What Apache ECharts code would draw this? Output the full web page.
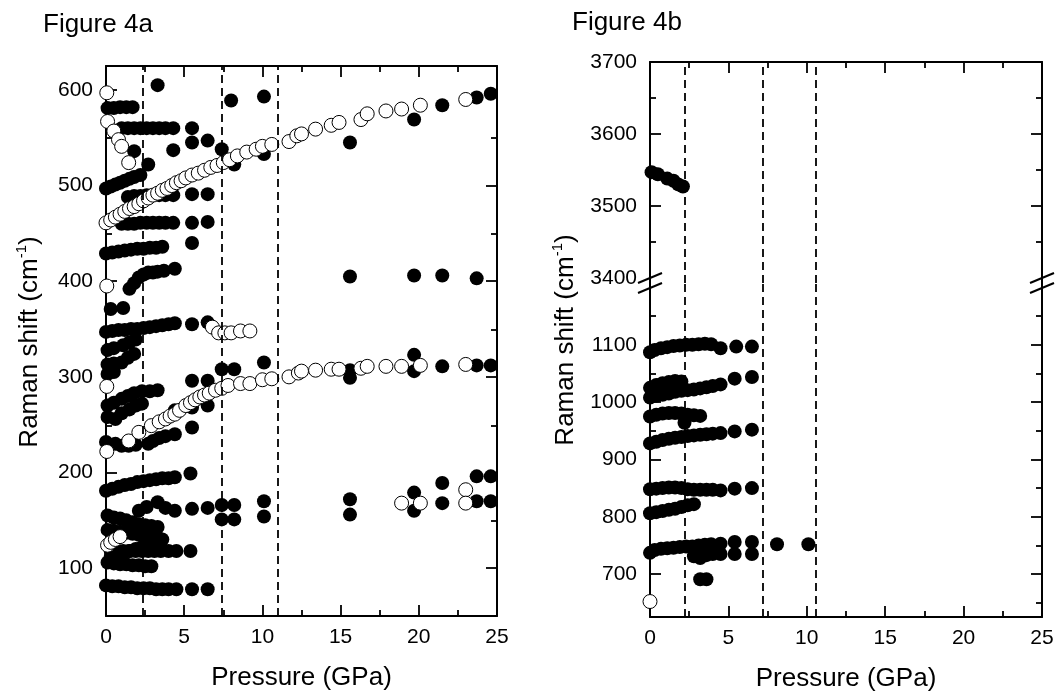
<!DOCTYPE html>
<html><head><meta charset="utf-8">
<script src="https://cdn.jsdelivr.net/npm/echarts@6/dist/echarts.min.js"></script>
<style>html,body{margin:0;padding:0;background:#fff}#c{width:1057px;height:696px}</style>
</head><body><div id="c"></div>
<script>
// ---------------- DATA ----------------
const xTickValues = [0, 5, 10, 15, 20, 25];
const yLabelsA = [100, 200, 300, 400, 500, 600];
const yMinorA = [150, 250, 350, 450, 550];
const yLabelsBHigh = [3400, 3500, 3600, 3700];
const yMajorBHigh = [3500, 3600];
const yMinorBHigh = [3450, 3550, 3650];
const yLabelsBLow = [700, 800, 900, 1000, 1100];
const yMinorBLow = [650, 750, 850, 950, 1050, 1150];
const transitionsA = [2.35, 7.4, 10.95];
const transitionsB = [2.2, 7.2, 10.6];

// Figure 4a, filled circles [pressure GPa, Raman shift cm-1]
const filledA = [
  [3.3,605],[8.0,589],[10.1,593],[15.6,545],[19.7,569],[21.5,584],[23.7,592],[24.6,596],
  [0.1,581],[0.5,581],[0.9,582],[1.3,582],[1.7,582],
  [1.0,560],[1.4,560],[1.8,560],[2.2,560],[2.6,560],[3.0,560],[3.4,560],[3.8,560],[4.3,560],[5.5,560],
  [1.8,536],[2.7,522],[4.3,537],[5.5,545],[6.5,547],[7.4,538],[8.2,522],[10.1,533],
  [0.0,497],[0.3,499],[0.6,501],[0.9,503],[1.2,505],[1.5,507],[1.8,509],[2.2,511],
  [1.4,488],[1.8,489],[2.2,489],[2.6,490],[3.0,490],[3.4,490],[3.8,490],[4.3,490],[5.5,491],[6.5,491],
  [1.0,460],[1.4,460],[1.8,460],[2.2,461],[2.6,461],[3.0,461],[3.4,461],[3.8,461],[4.3,461],[5.5,461],[6.5,462],
  [0.0,429],[0.4,430],[0.8,431],[1.2,432],[1.6,433],[2.0,434],[2.4,434],[2.8,435],[3.2,435],[3.6,436],[5.5,440],
  [1.5,392],[1.8,398],[2.1,404],[2.4,407],[2.7,409],[3.0,409],[3.3,410],[3.7,411],[4.4,413],
  [15.6,405],[19.7,406],[21.5,406],[23.7,403],
  [0.3,371],[1.1,372],
  [0.0,347],[0.4,348],[0.8,349],[1.2,349],[1.6,350],[2.0,350],[2.4,351],[2.8,352],[3.2,353],[3.6,354],[4.0,355],[4.4,356],[5.5,355],[6.5,357],
  [0.1,328],[0.5,330],[1.1,333],[1.5,336],[1.9,339],
  [0.1,313],[0.5,314],[1.0,315],[1.4,320],[1.8,324],
  [0.1,303],[0.5,305],
  [5.5,296],[6.5,296],[7.4,308],[8.2,308],[10.1,315],[15.6,307],[15.6,299],[19.7,323],[19.7,306],[21.5,311],[23.7,312],[24.6,312],
  [0.1,270],[0.5,273],[1.0,277],[1.4,280],[1.8,283],[2.3,285],[2.8,285],[3.3,286],
  [0.1,258],[0.6,256],[1.0,262],[1.5,266],[1.9,270],[2.3,272],
  [4.4,265],[5.5,268],[6.5,270],
  [0.0,232],[0.6,230],[1.0,228],[1.45,228],[1.9,229],
  [2.7,230],[3.0,233],[3.4,236],[3.8,238],[4.4,240],[5.5,247],
  [0.0,181],[0.4,183],[0.8,185],[1.2,187],[1.6,188],[2.0,190],[2.4,191],[2.8,192],[3.2,193],[3.6,194],[4.0,194],[4.4,195],[5.4,199],
  [2.1,160],[2.6,164],[3.3,169],[3.8,163],[4.4,160],[5.5,162],[6.5,163],[7.4,166],[8.2,166],[10.1,170],[15.6,172],[19.7,160],[21.5,168],[23.7,170],[24.6,170],
  [7.4,151],[8.2,151],[10.1,154],[15.6,156],
  [19.7,179],[21.5,189],[23.7,196],[24.6,196],
  [0.1,155],[0.5,153],[0.9,152],[1.3,150],[1.7,148],[2.1,146],[2.5,145],[2.9,144],[3.3,143],
  [0.1,140],[0.5,139],[0.9,138],[1.3,137],[1.7,136],[2.1,135],[2.5,134],[2.9,133],[3.3,132],[3.6,130],
  [0.3,112],[0.7,114],[1.1,116],[1.5,118],[1.9,120],[2.3,122],[2.7,124],[3.1,126],
  [0.3,118],[0.7,118],[1.1,118],[1.5,118],[1.9,118],[2.3,118],[2.7,118],[3.1,118],[3.5,118],[4.0,118],[4.5,118],[5.4,118],
  [0.1,106],[0.5,105],[0.9,104],[1.3,104],[1.7,103],[2.1,103],[2.5,102],[2.9,102],
  [0.0,82],[0.4,81],[0.8,81],[1.2,80],[1.6,80],[2.0,79],[2.4,79],[2.8,79],[3.2,78],[3.6,78],[4.0,78],[4.5,78],[5.5,78],[6.5,78]
];

// Figure 4a, open circles
const openA = [
  [0.05,597],[0.1,567],[0.5,557],[0.8,548],[1.0,541],[1.45,524],
  [0.0,461],[0.3,464],[0.6,467],[0.9,470],[1.2,473],[1.5,476],[1.8,478],[2.1,481],[2.4,484],[2.7,487],[3.0,490],[3.3,492],[3.6,495],[3.9,497],[4.2,500],[4.5,503],[4.8,505],[5.1,508],[5.5,511],[5.9,513],[6.3,516],[6.7,519],[7.1,521],[7.5,524],[7.9,527],[8.4,531],[9.0,535],[9.6,538],[10.0,541],
  [10.6,543],[11.7,546],[12.2,552],[12.5,554],[13.4,559],[14.4,563],[14.9,566],[16.3,569],[16.7,575],[17.9,578],[18.9,580],[20.1,584],[23.0,590],
  [0.05,395],
  [6.8,352],[7.2,346],[7.6,346],[8.0,346],[8.6,348],[9.2,348],
  [0.05,290],
  [0.05,222],
  [1.45,233],[2.1,242],[2.9,249],[3.4,253],[3.8,256],[4.1,259],[4.4,261],[4.7,265],[5.1,270],[5.4,273],[5.7,276],[6.0,279],[6.3,281],[6.6,283],[7.0,286],[7.4,288],[7.8,291],[8.6,293],[9.2,293],[10.0,297],
  [10.6,298],[11.7,300],[12.3,304],[12.5,306],[13.4,307],[14.4,308],[14.9,308],[16.3,309],[16.7,311],[17.9,311],[18.9,311],[20.1,312],[23.0,313],
  [18.9,168],[20.1,168],[23.0,182],[23.0,168],
  [0.1,124],[0.3,127],[0.6,130],[0.9,133]
];

// Figure 4b, filled circles (upper segment)
const filledBHigh = [[0.1,3547],[0.5,3544],[1.1,3538],[1.5,3535],[1.8,3530],[2.1,3527]];

// Figure 4b, filled circles (lower segment)
const filledBLow = [
  [0.0,1087],[0.3,1091],[0.7,1094],[1.1,1096],[1.5,1098],[1.9,1099],[2.3,1100],[2.7,1100],[3.1,1101],[3.5,1102],[3.9,1101],[4.5,1094],[5.5,1097],[6.5,1097],
  [0.0,1025],[0.4,1030],[0.8,1033],[1.2,1035],[1.6,1037],[2.0,1036],
  [0.0,1008],[0.4,1011],[0.8,1013],[1.2,1015],[1.6,1018],[2.0,1020],[2.4,1021],[2.8,1022],[3.2,1024],[3.6,1026],[4.0,1028],[4.5,1031],[5.4,1041],[6.5,1044],
  [0.0,975],[0.4,978],[0.8,980],[1.2,981],[1.6,981],[2.0,980],[2.4,978],[2.8,977],[3.2,976],[2.2,964],
  [0.0,928],[0.4,931],[0.8,934],[1.2,936],[1.6,938],[2.0,939],[2.4,941],[2.8,942],[3.2,943],[3.6,944],[4.0,945],[4.5,946],[5.4,949],[6.5,952],
  [0.0,848],[0.4,849],[0.8,850],[1.2,851],[1.6,851],[2.0,850],[2.4,848],[2.8,847],[3.2,847],[3.6,847],[4.0,847],[4.5,846],[5.4,849],[6.5,850],
  [0.0,806],[0.4,808],[0.8,810],[1.2,812],[1.6,814],[2.0,817],[2.4,820],[2.8,822],
  [0.0,737],[0.3,742],[0.7,744],[1.1,745],[1.5,746],[1.9,747],[2.3,748],[2.7,748],[3.1,750],[3.5,751],[3.9,752],[4.5,753],[5.4,756],[6.5,756],[8.1,752],[10.1,752],
  [2.8,731],[3.2,728],[3.6,733],[4.0,735],[4.5,735],[5.4,735],[6.5,735],
  [3.2,691],[3.6,691]
];
const openBLow = [[0.0,652]];

// ---------------- LAYOUT / STYLE ----------------
const FONT = '"Liberation Sans", Arial, sans-serif';
const BLACK = '#000';
const gA = {left: 106, top: 66, width: 391, height: 551};
const gBH = {left: 650, top: 62, width: 392, height: 221};
const gBL = {left: 650, top: 283, width: 392, height: 334};
const line = {color: BLACK, width: 2};
const tickLine = {color: BLACK, width: 1.8};
const plain = v => String(v);

function xAxisDef(grid, position, labels, visible) {
  return {
    type: 'value', gridIndex: grid, position: position, min: 0, max: 25, interval: 5,
    show: visible,
    axisLine: {show: true, onZero: false, lineStyle: line},
    axisTick: {show: true, inside: true, length: 11, lineStyle: tickLine},
    minorTick: {show: true, splitNumber: 2, length: 6, lineStyle: tickLine},
    axisLabel: {show: labels, margin: 11, color: BLACK, fontSize: 21, fontFamily: FONT,
      customValues: xTickValues, formatter: plain},
    splitLine: {show: false}, minorSplitLine: {show: false}
  };
}
function yAxisDef(grid, position, min, max, ticks, len, labels, showLine) {
  return {
    type: 'value', gridIndex: grid, position: position, min: min, max: max,
    axisLine: {show: showLine, onZero: false, lineStyle: line},
    axisTick: {show: true, inside: true, length: len, customValues: ticks, lineStyle: tickLine},
    axisLabel: labels ? {show: true, customValues: labels, margin: 13, color: BLACK, fontSize: 21,
                         fontFamily: FONT, formatter: plain}
                      : {show: false},
    splitLine: {show: false}
  };
}
function dashed(values) {
  return {
    silent: true, symbol: ['none', 'none'], label: {show: false},
    lineStyle: {color: BLACK, type: [8, 5], width: 1.8},
    emphasis: {disabled: true},
    data: values.map(v => ({xAxis: v}))
  };
}
const filledStyle = {color: BLACK, opacity: 1};
const openStyle = {color: '#fff', borderColor: BLACK, borderWidth: 1, opacity: 1};
const SYM = 14;

const rich = {
  a: {fontSize: 26, fontFamily: FONT, color: BLACK, lineHeight: 32},
  s: {fontSize: 15, fontFamily: FONT, color: BLACK, verticalAlign: 'top', lineHeight: 32, padding: [0, 0, 15, 0]}
};
const yName = '{a|Raman shift (cm}{s|-1}{a|)}';
const nameStyle = {fontSize: 26, fontFamily: FONT, color: BLACK};

const option = {
  animation: false,
  backgroundColor: '#fff',
  title: [
    {text: 'Figure 4a', left: 38, top: 7, textStyle: {fontSize: 26, fontWeight: 'normal', fontFamily: FONT, color: BLACK}},
    {text: 'Figure 4b', left: 567, top: 5, textStyle: {fontSize: 26, fontWeight: 'normal', fontFamily: FONT, color: BLACK}}
  ],
  grid: [gA, gA, gBH, gBH, gBL, gBL],
  xAxis: [
    Object.assign(xAxisDef(0, 'bottom', true, true), {name: 'Pressure (GPa)', nameLocation: 'middle', nameGap: 49, nameTextStyle: nameStyle}),
    xAxisDef(0, 'top', false, true),
    xAxisDef(1, 'bottom', false, false),
    xAxisDef(2, 'top', false, true),
    xAxisDef(3, 'top', false, false),
    Object.assign(xAxisDef(4, 'bottom', true, true), {name: 'Pressure (GPa)', nameLocation: 'middle', nameGap: 49, nameTextStyle: nameStyle}),
    xAxisDef(5, 'bottom', false, false)
  ],
  yAxis: [
    yAxisDef(0, 'left', 50, 625, yLabelsA, 11, yLabelsA, true),
    yAxisDef(0, 'right', 50, 625, yLabelsA, 11, null, true),
    yAxisDef(1, 'left', 50, 625, yMinorA, 6, null, false),
    yAxisDef(1, 'right', 50, 625, yMinorA, 6, null, false),
    yAxisDef(2, 'left', 3393, 3700, yMajorBHigh, 11, yLabelsBHigh, true),
    yAxisDef(2, 'right', 3393, 3700, yMajorBHigh, 11, null, true),
    yAxisDef(3, 'left', 3393, 3700, yMinorBHigh, 6, null, false),
    yAxisDef(3, 'right', 3393, 3700, yMinorBHigh, 6, null, false),
    yAxisDef(4, 'left', 625, 1208, yLabelsBLow, 11, yLabelsBLow, true),
    yAxisDef(4, 'right', 625, 1208, yLabelsBLow, 11, null, true),
    yAxisDef(5, 'left', 625, 1208, yMinorBLow, 6, null, false),
    yAxisDef(5, 'right', 625, 1208, yMinorBLow, 6, null, false)
  ],
  series: [
    {type: 'scatter', xAxisIndex: 0, yAxisIndex: 0, data: filledA, symbolSize: SYM, itemStyle: filledStyle,
      markLine: dashed(transitionsA), z: 3},
    {type: 'scatter', xAxisIndex: 0, yAxisIndex: 0, data: openA, symbolSize: SYM, itemStyle: openStyle, z: 4},
    {type: 'scatter', xAxisIndex: 3, yAxisIndex: 4, data: filledBHigh, symbolSize: SYM, itemStyle: filledStyle,
      markLine: dashed(transitionsB), z: 3},
    {type: 'scatter', xAxisIndex: 5, yAxisIndex: 8, data: filledBLow, symbolSize: SYM, itemStyle: filledStyle,
      markLine: dashed(transitionsB), z: 3},
    {type: 'scatter', xAxisIndex: 5, yAxisIndex: 8, data: openBLow, symbolSize: SYM, itemStyle: openStyle, z: 4}
  ],
  graphic: [
    {type: 'text', x: 30, y: 342, rotation: Math.PI / 2,
      style: {text: yName, rich: rich, align: 'center', verticalAlign: 'middle'}},
    {type: 'text', x: 566, y: 340, rotation: Math.PI / 2,
      style: {text: yName, rich: rich, align: 'center', verticalAlign: 'middle'}},
    // axis-break marks
    {type: 'line', shape: {x1: 638, y1: 283, x2: 662, y2: 273}, style: {stroke: BLACK, lineWidth: 2}},
    {type: 'line', shape: {x1: 638, y1: 293, x2: 662, y2: 283}, style: {stroke: BLACK, lineWidth: 2}},
    {type: 'line', shape: {x1: 1030, y1: 283, x2: 1054, y2: 273}, style: {stroke: BLACK, lineWidth: 2}},
    {type: 'line', shape: {x1: 1030, y1: 293, x2: 1054, y2: 283}, style: {stroke: BLACK, lineWidth: 2}}
  ]
};
const chart = echarts.init(document.getElementById('c'), null, {renderer: 'canvas'});
chart.setOption(option);
</script>
</body></html>
